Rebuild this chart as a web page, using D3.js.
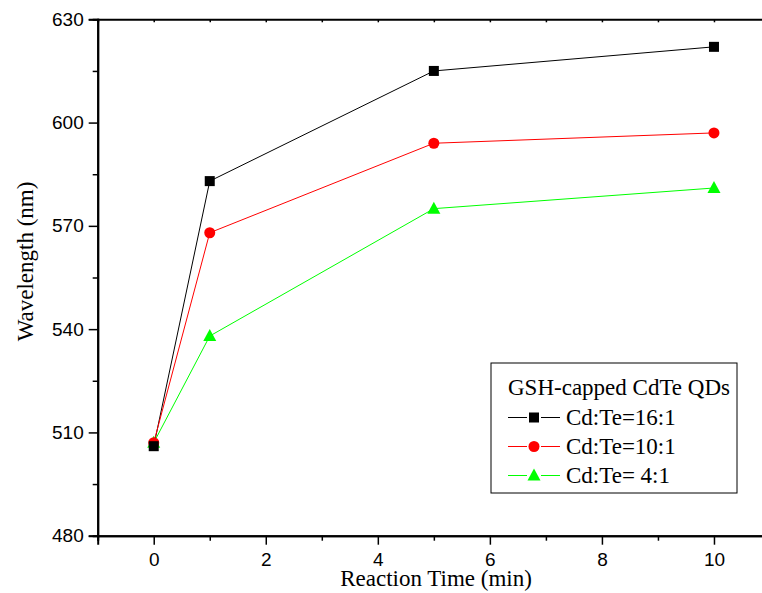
<!DOCTYPE html>
<html>
<head>
<meta charset="utf-8">
<script src="https://cdn.jsdelivr.net/npm/d3@7"></script>
<style>
  body { margin: 0; background: #fff; }
  svg { display: block; }
  .serif { font-family: "Liberation Serif", "Times New Roman", Tinos, "DejaVu Serif", serif; }
</style>
</head>
<body>
<div id="chart"></div>
<script>
// data
const times = [0, 1, 5, 10];
const ratio16 = [506, 583, 615, 622];
const ratio10 = [507, 568, 594, 597];
const ratio4 = [507, 538, 575, 581];
const seriesNames = ["Cd:Te=16:1", "Cd:Te=10:1", "Cd:Te= 4:1"];
const seriesColors = ["#000000", "#ff0000", "#00ff00"];
const seriesShapes = ["square", "circle", "triangle"];
const xTicks = [0, 2, 4, 6, 8, 10];
const yTicks = [480, 510, 540, 570, 600, 630];

const width = 762, height = 593;
const margin = { top: 19.3, right: -8, bottom: 57.3, left: 97.7 };

const svg = d3.select("#chart").append("svg")
    .attr("width", width)
    .attr("height", height);

const x = d3.scaleLinear().domain([-1, 11]).range([margin.left, width - margin.right]);
const y = d3.scaleLinear().domain([480, 630]).range([height - margin.bottom, margin.top]);

const sans = "'Liberation Sans', Arial, sans-serif";

// Axes
svg.append("g")
    .attr("transform", `translate(0,${y(480)})`)
    .call(d3.axisBottom(x).tickValues(xTicks).tickSize(9).tickPadding(8).tickFormat(d3.format("d")));
svg.append("g")
    .attr("transform", `translate(0,${y(480)})`)
    .call(d3.axisBottom(x).tickValues([-1, 1, 3, 5, 7, 9]).tickSize(5).tickFormat(""));

svg.append("g")
    .attr("transform", `translate(${x(-1)},0)`)
    .call(d3.axisLeft(y).tickValues(yTicks).tickSize(9).tickPadding(5));
svg.append("g")
    .attr("transform", `translate(${x(-1)},0)`)
    .call(d3.axisLeft(y).tickValues([495, 525, 555, 585, 615]).tickSize(5).tickFormat(""));

// top frame
svg.append("g")
    .attr("transform", `translate(0,${y(630)})`)
    .call(d3.axisBottom(x).tickValues(d3.range(0, 11, 1)).tickSize(3).tickFormat(""));

svg.selectAll(".domain").attr("stroke", "#000").attr("stroke-width", 2);
svg.selectAll(".tick line").attr("stroke", "#000").attr("stroke-width", 1.5);
svg.selectAll(".tick text")
    .style("font-family", sans)
    .style("font-size", "19px")
    .attr("fill", "#000");

// Axis titles
svg.append("text")
    .attr("class", "serif")
    .attr("x", x(5.04))
    .attr("y", 586)
    .attr("text-anchor", "middle")
    .style("font-size", "23px")
    .text("Reaction Time (min)");

svg.append("text")
    .attr("class", "serif")
    .attr("transform", "translate(33,261.5) rotate(-90)")
    .attr("text-anchor", "middle")
    .style("font-size", "23px")
    .text("Wavelength (nm)");

// Series
const allSeries = [ratio16, ratio10, ratio4];

function drawMarker(g, shape, color, cx, cy) {
    if (shape === "square") {
        g.append("rect").attr("x", cx - 5).attr("y", cy - 5)
            .attr("width", 10).attr("height", 10).attr("fill", color);
    } else if (shape === "circle") {
        g.append("circle").attr("cx", cx).attr("cy", cy).attr("r", 5.5).attr("fill", color);
    } else {
        g.append("path")
            .attr("d", `M${cx},${cy - 7}L${cx + 6.5},${cy + 5}L${cx - 6.5},${cy + 5}Z`)
            .attr("fill", color);
    }
}

const line = d3.line().x(d => x(d[0])).y(d => y(d[1]));

allSeries.forEach((vals, i) => {
    const pts = times.map((t, j) => [t, vals[j]]);
    svg.append("path")
        .datum(pts)
        .attr("d", line)
        .attr("fill", "none")
        .attr("stroke", seriesColors[i])
        .attr("stroke-width", 1);
});
// markers drawn in reverse so the black square sits at the back like the original
[2, 1, 0].forEach(i => {
    const g = svg.append("g");
    times.forEach((t, j) => drawMarker(g, seriesShapes[i], seriesColors[i], x(t), y(allSeries[i][j])));
});

// Legend
const lg = svg.append("g").attr("transform", "translate(491,363)");
lg.append("rect")
    .attr("width", 246).attr("height", 130)
    .attr("fill", "#fff").attr("stroke", "#000").attr("stroke-width", 1);
lg.append("text")
    .attr("class", "serif")
    .attr("x", 17).attr("y", 32)
    .style("font-size", "23px")
    .text("GSH-capped CdTe QDs");

seriesNames.forEach((name, i) => {
    const cy = 54.5 + i * 29;
    lg.append("line").attr("x1", 17).attr("x2", 69).attr("y1", cy).attr("y2", cy)
        .attr("stroke", seriesColors[i]).attr("stroke-width", 1);
    const mg = lg.append("g");
    mg.append("rect").attr("x", 36).attr("y", cy - 8).attr("width", 14).attr("height", 16).attr("fill", "#fff");
    drawMarker(mg, seriesShapes[i], seriesColors[i], 43, cy);
    lg.append("text")
        .attr("class", "serif")
        .attr("x", 75).attr("y", cy + 7)
        .style("font-size", "23px")
        .text(name);
});
</script>
</body>
</html>
